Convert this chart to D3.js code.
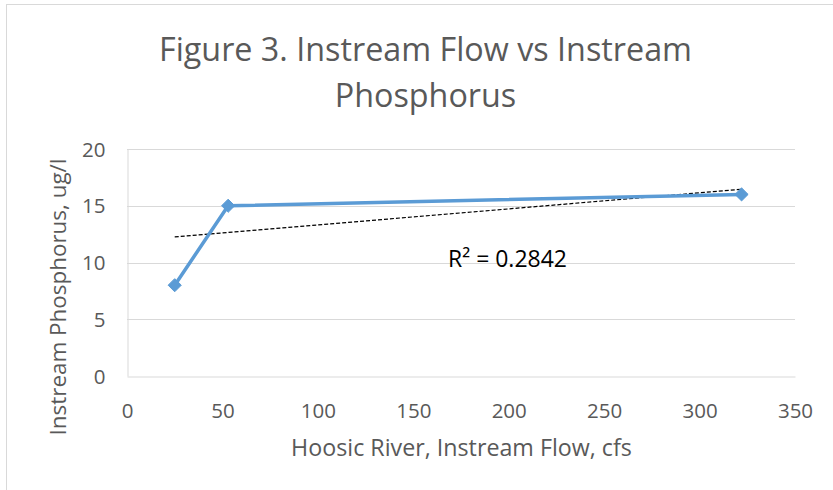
<!DOCTYPE html>
<html>
<head>
<meta charset="utf-8">
<script src="https://cdn.jsdelivr.net/npm/d3@7"></script>
<style>
  html, body { margin: 0; padding: 0; background: #fff; }
  svg { display: block; }
  text { font-family: "Open Sans", sans-serif; }
</style>
</head>
<body>
<svg id="chart" width="833" height="490"></svg>
<script>
// ---- data ----
const titleLines = ["Figure 3. Instream Flow vs Instream", "Phosphorus"];
const xAxisTitle = "Hoosic River, Instream Flow, cfs";
const yAxisTitle = "Instream Phosphorus, ug/l";
const flowCfs = [25, 53, 322];
const phosphorusUgL = [8, 15, 16];
const xTicks = [0, 50, 100, 150, 200, 250, 300, 350];
const yTicks = [0, 5, 10, 15, 20];
const trendX = [25, 322];
const trendY = [12.25, 16.45];
const r2Label = "R\u00B2 = 0.2842";

// ---- layout ----
const svg = d3.select("#chart");
const plot = { left: 127, right: 795, top: 149, bottom: 376 };
const x = d3.scaleLinear().domain([0, 350]).range([plot.left, plot.right]);
const y = d3.scaleLinear().domain([0, 20]).range([plot.bottom, plot.top]);

function fit(sel, targetWidth) {
  const base = parseFloat(sel.attr("font-size"));
  const w = sel.node().getComputedTextLength();
  sel.attr("font-size", (base * targetWidth / w).toFixed(2));
  return sel;
}

// chart border
svg.append("rect")
  .attr("x", 6.5).attr("y", 4.5)
  .attr("width", 900).attr("height", 600)
  .attr("fill", "#fff").attr("stroke", "#d9d9d9").attr("stroke-width", 1);

// gridlines
svg.append("g").selectAll("line").data(yTicks.filter(d => d !== 0)).join("line")
  .attr("x1", plot.left).attr("x2", plot.right)
  .attr("y1", d => Math.round(y(d)) + 0.5).attr("y2", d => Math.round(y(d)) + 0.5)
  .attr("stroke", "#d9d9d9").attr("stroke-width", 1);

// axes
const xAxis = d3.axisBottom(x).tickValues(xTicks).tickSize(0).tickPadding(0);
const yAxis = d3.axisLeft(y).tickValues(yTicks).tickSize(0).tickPadding(0);

const gx = svg.append("g").attr("transform", `translate(0,${plot.bottom + 0.5})`).call(xAxis);
gx.select(".domain").attr("stroke", "#d9d9d9").attr("stroke-width", 1);
gx.selectAll("text").attr("fill", "#595959").attr("font-size", 20.5)
  .attr("font-family", "Open Sans").attr("dy", null).attr("y", 41);

const gy = svg.append("g").attr("transform", `translate(${plot.left + 0.5},0)`).call(yAxis);
gy.select(".domain").attr("stroke", "#d9d9d9").attr("stroke-width", 1);
gy.selectAll("text").attr("fill", "#595959").attr("font-size", 20.5)
  .attr("font-family", "Open Sans").attr("x", -22).attr("dy", "0.35em");

// trendline
svg.append("line")
  .attr("x1", x(trendX[0])).attr("y1", y(trendY[0]))
  .attr("x2", x(trendX[1])).attr("y2", y(trendY[1]))
  .attr("stroke", "#000").attr("stroke-width", 1.2)
  .attr("stroke-dasharray", "4,2");

// series line
const pts = flowCfs.map((f, i) => [f, phosphorusUgL[i]]);
svg.append("path")
  .datum(pts)
  .attr("d", d3.line().x(d => x(d[0])).y(d => y(d[1])))
  .attr("fill", "none").attr("stroke", "#5b9bd5").attr("stroke-width", 3.5)
  .attr("stroke-linejoin", "round");

// markers
svg.append("g").selectAll("path").data(pts).join("path")
  .attr("transform", d => `translate(${x(d[0])},${y(d[1])})`)
  .attr("d", d3.symbol().type(d3.symbolDiamond2).size(110))
  .attr("fill", "#5b9bd5").attr("stroke", "#5b9bd5").attr("stroke-width", 1);

// R² label
const r2 = svg.append("text").text(r2Label)
  .attr("x", 448).attr("y", 267).attr("fill", "#000").attr("font-size", 21);
fit(r2, 119);

// title
const t1 = svg.append("text").text(titleLines[0])
  .attr("x", 425.5).attr("y", 61).attr("text-anchor", "middle")
  .attr("fill", "#595959").attr("font-size", 31);
fit(t1, 533);
const t2 = svg.append("text").text(titleLines[1])
  .attr("x", 425.5).attr("y", 107).attr("text-anchor", "middle")
  .attr("fill", "#595959").attr("font-size", t1.attr("font-size"));

// axis titles
const xt = svg.append("text").text(xAxisTitle)
  .attr("x", 461.5).attr("y", 456).attr("text-anchor", "middle")
  .attr("fill", "#595959").attr("font-size", 21);
fit(xt, 341);

const yt = svg.append("text").text(yAxisTitle)
  .attr("transform", "translate(66,297) rotate(-90)")
  .attr("text-anchor", "middle")
  .attr("fill", "#595959").attr("font-size", 21);
fit(yt, 277);
</script>
</body>
</html>
